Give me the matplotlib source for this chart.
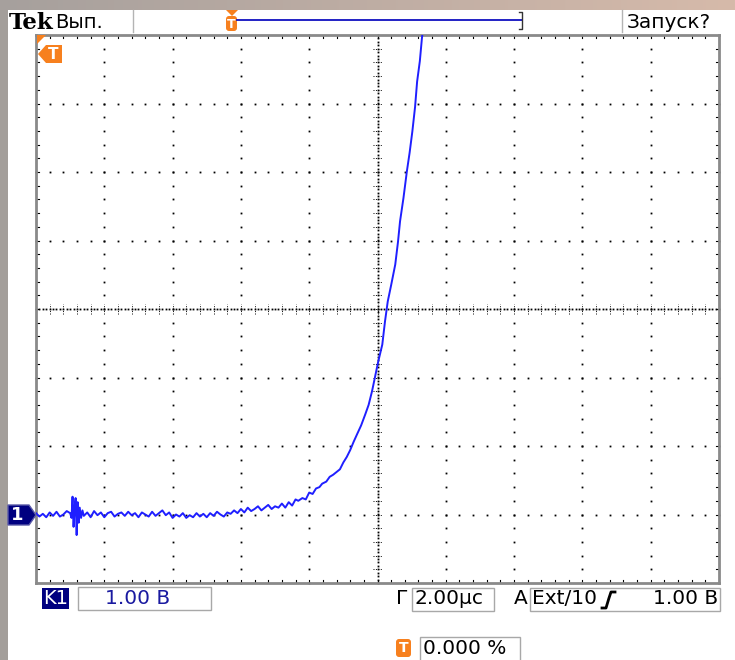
import numpy as np
import matplotlib
matplotlib.use('Agg')
import matplotlib.pyplot as plt
from matplotlib.patches import Polygon, Rectangle, FancyBboxPatch

# trace samples (time in us, voltage in V)
t_noise = [0.00, 0.10, 0.20, 0.30, 0.40, 0.50, 0.60, 0.70, 0.80, 0.90,
           1.00, 1.04, 1.07, 1.10, 1.13, 1.16, 1.19, 1.22, 1.25, 1.28,
           1.32, 1.36, 1.40, 1.50, 1.60, 1.70, 1.80, 1.90, 2.00, 2.10,
           2.20, 2.30, 2.40, 2.50, 2.60, 2.70, 2.80, 2.90, 3.00, 3.10,
           3.20, 3.30, 3.40, 3.50, 3.60, 3.70, 3.80, 3.90, 4.00, 4.10,
           4.20, 4.30, 4.40, 4.50, 4.60, 4.70, 4.80, 4.90, 5.00, 5.10,
           5.20, 5.30, 5.40, 5.50, 5.60, 5.70, 5.80, 5.90, 6.00, 6.10,
           6.20, 6.30, 6.40, 6.50, 6.60, 6.70, 6.80, 6.90, 7.00, 7.10]
v_noise = [0.02, -0.03, 0.01, -0.04, 0.03, -0.02, 0.04, -0.03, 0.00, 0.05,
           0.02, -0.05, 0.26, -0.18, 0.10, 0.24, -0.30, 0.18, -0.12, 0.10,
           -0.05, 0.06, -0.02, 0.03, -0.04, 0.05, -0.01, 0.03, -0.04, 0.02,
           0.04, -0.03, 0.01, 0.03, -0.02, 0.04, -0.01, 0.02, -0.04, 0.03,
           0.00, -0.03, 0.04, -0.02, 0.02, 0.06, -0.01, 0.03, -0.05, 0.00,
           -0.03, 0.02, -0.05, -0.01, -0.04, 0.02, -0.03, 0.01, -0.04, 0.02,
           -0.02, 0.04, 0.00, -0.03, 0.03, 0.01, 0.06, 0.02, 0.08, 0.03,
           0.10, 0.05, 0.08, 0.12, 0.06, 0.10, 0.14, 0.08, 0.12, 0.10]
t_rise = [7.20, 7.30, 7.40, 7.50, 7.60, 7.68, 7.80, 7.90, 8.00, 8.10,
          8.20, 8.30, 8.38, 8.50, 8.60, 8.70, 8.80, 8.90, 9.00, 9.10,
          9.20, 9.30, 9.40, 9.52, 9.64, 9.74, 9.84, 9.92, 10.02, 10.14,
          10.22, 10.30, 10.40, 10.52, 10.60, 10.66, 10.76, 10.86, 10.94,
          11.02, 11.10, 11.16, 11.24, 11.30, 11.36]
v_rise = [0.16, 0.10, 0.18, 0.13, 0.22, 0.20, 0.24, 0.22, 0.32, 0.30,
          0.38, 0.40, 0.45, 0.48, 0.55, 0.58, 0.62, 0.66, 0.76, 0.84,
          0.94, 1.06, 1.17, 1.30, 1.46, 1.60, 1.80, 1.99, 2.23, 2.48,
          2.82, 3.11, 3.35, 3.65, 3.98, 4.28, 4.62, 5.01, 5.28, 5.59,
          5.95, 6.32, 6.62, 6.95, 7.20]

t_trace = t_noise + t_rise
v_trace = v_noise + v_rise

US_PER_DIV = 2.0
V_PER_DIV = 1.0
X_MIN, X_MAX = 0.0, 20.0
Y_MIN, Y_MAX = -1.0, 7.0

W, H = 735, 660
ORANGE = '#f7801e'
NAVY = '#000080'
TRACE = '#1f1fff'
FS = 14.5

fig = plt.figure(figsize=(W / 100, H / 100), dpi=100)
fig.patch.set_facecolor('white')

# background / status bars in pixel coordinates
deco = fig.add_axes([0, 0, 1, 1])
deco.set_xlim(0, W)
deco.set_ylim(H, 0)
deco.axis('off')

grad = np.linspace(0, 1, 256)[None, :, None]
c0 = np.array([166, 160, 157]) / 255
c1 = np.array([214, 186, 170]) / 255
deco.imshow(c0 + (c1 - c0) * grad, extent=[0, W, 10, 0], aspect='auto')
deco.add_patch(Rectangle((0, 10), 8, H - 10, color='#a39e9a', lw=0))

# top bar
deco.text(9, 29, 'Tek', family='DejaVu Serif', weight='bold', fontsize=16.5, color='black')
deco.text(55, 28, 'Вып.', fontsize=14, color='black')
deco.plot([133, 133], [10, 32], color='#b4b4b4', lw=1)
deco.plot([622, 622], [10, 32], color='#b4b4b4', lw=1)
deco.text(627, 28, 'Запуск?', fontsize=FS, color='black')
deco.plot([237, 522], [20, 20], color='#1010c0', lw=1.3)
deco.plot([519, 522, 522, 519], [12, 12, 29, 29], color='#333333', lw=1)
deco.add_patch(Polygon([(226, 10), (238, 10), (232, 16)], color=ORANGE, lw=0))
deco.add_patch(FancyBboxPatch((226, 16), 11, 15, boxstyle='round,pad=0,rounding_size=3',
                              color=ORANGE, lw=0))
deco.text(231.5, 24, 'T', color='white', weight='bold', fontsize=9, ha='center', va='center')

# bottom status
deco.add_patch(Rectangle((42, 588), 27, 21, color=NAVY, lw=0))
deco.text(55.5, 599, 'K1', color='white', fontsize=14, ha='center', va='center')
deco.add_patch(Rectangle((78, 587), 133, 23, fc='white', ec='#a8a8a8', lw=1))
deco.text(138, 599, '1.00 B', color='#1a1aa0', fontsize=FS, ha='center', va='center')
deco.text(396, 599, 'Г', color='black', fontsize=FS, va='center')
deco.add_patch(Rectangle((412, 588), 82, 23, fc='white', ec='#a8a8a8', lw=1))
deco.text(415, 599, '2.00µс', color='black', fontsize=FS, va='center')
deco.text(514, 599, 'A', color='black', fontsize=FS, va='center')
deco.add_patch(Rectangle((530, 588), 190, 23, fc='white', ec='#a8a8a8', lw=1))
deco.text(532, 599, 'Ext/10', color='black', fontsize=FS, va='center')
deco.plot([602, 606, 609, 611, 615], [608, 608, 598, 592, 592], color='black', lw=2)
deco.text(718, 599, '1.00 B', color='black', fontsize=FS, ha='right', va='center')
deco.add_patch(FancyBboxPatch((396, 639), 15, 18, boxstyle='round,pad=0,rounding_size=3',
                              color=ORANGE, lw=0))
deco.text(403.5, 648, 'T', color='white', weight='bold', fontsize=10, ha='center', va='center')
deco.add_patch(Rectangle((420, 637), 100, 26, fc='white', ec='#a8a8a8', lw=1))
deco.text(423, 649, '0.000 %', color='black', fontsize=FS, va='center')

# scope screen
left, right, top, bottom = 36, 719, 35, 583
ax = fig.add_axes([left / W, 1 - bottom / H, (right - left) / W, (bottom - top) / H])
ax.set_xlim(X_MIN, X_MAX)
ax.set_ylim(Y_MIN, Y_MAX)
ax.set_facecolor('none')
ax.set_xticks([])
ax.set_yticks([])
for sp in ax.spines.values():
    sp.set_color('#8a8a8a')
    sp.set_linewidth(2.0)

dot = dict(ls='none', marker='s', ms=1.3, mew=0, color='black', clip_on=False)
minor_x = np.arange(X_MIN, X_MAX + 1e-9, US_PER_DIV / 5)
minor_y = np.arange(Y_MIN, Y_MAX + 1e-9, V_PER_DIV / 5)
x_mid = (X_MIN + X_MAX) / 2
y_mid = (Y_MIN + Y_MAX) / 2

for gx in np.arange(X_MIN + US_PER_DIV, X_MAX - 1e-9, US_PER_DIV):
    if abs(gx - x_mid) > 1e-6:
        ax.plot(np.full_like(minor_y, gx), minor_y, **dot)
for gy in np.arange(Y_MIN + V_PER_DIV, Y_MAX - 1e-9, V_PER_DIV):
    if abs(gy - y_mid) > 1e-6:
        ax.plot(minor_x, np.full_like(minor_x, gy), **dot)

# centre cross with dense dots and small ticks
dense_y = np.arange(Y_MIN, Y_MAX + 1e-9, V_PER_DIV / 20)
dense_x = np.arange(X_MIN, X_MAX + 1e-9, US_PER_DIV / 20)
ax.plot(np.full_like(dense_y, x_mid), dense_y, **dot)
ax.plot(dense_x, np.full_like(dense_x, y_mid), **dot)
hx = US_PER_DIV * 0.07
hy = V_PER_DIV * 0.07
for yy in minor_y:
    ax.plot([x_mid - hx, x_mid + hx], [yy, yy], color='black', lw=0.7, ls=(0, (1, 1.5)))
for xx in minor_x:
    ax.plot([xx, xx], [y_mid - hy, y_mid + hy], color='black', lw=0.7, ls=(0, (1, 1.5)))

# edge ticks
ex = US_PER_DIV * 0.05
ey = V_PER_DIV * 0.05
for yy in minor_y:
    ax.plot([X_MIN, X_MIN + ex], [yy, yy], color='black', lw=0.8)
    ax.plot([X_MAX - ex, X_MAX], [yy, yy], color='black', lw=0.8)
for xx in minor_x:
    ax.plot([xx, xx], [Y_MIN, Y_MIN + ey], color='black', lw=0.8)
    ax.plot([xx, xx], [Y_MAX - ey, Y_MAX], color='black', lw=0.8)

ax.plot(t_trace, v_trace, color=TRACE, lw=1.4, zorder=5)

# markers drawn above the screen
over = fig.add_axes([0, 0, 1, 1])
over.set_xlim(0, W)
over.set_ylim(H, 0)
over.axis('off')
over.patch.set_alpha(0)
over.add_patch(Polygon([(8, 505), (29, 505), (36, 515), (29, 525), (8, 525)],
                       fc=NAVY, ec='#5a5aa8', lw=1))
over.text(17, 515.5, '1', color='white', weight='bold', fontsize=13, ha='center', va='center')
over.add_patch(Polygon([(37, 35), (46, 35), (37, 44)], color=ORANGE, lw=0))
over.add_patch(Polygon([(38, 54), (46, 45), (62, 45), (62, 63), (46, 63)], color=ORANGE, lw=0))
over.text(53, 54.5, 'T', color='white', weight='bold', fontsize=11, ha='center', va='center')

fig.savefig('out.png', dpi=100)
